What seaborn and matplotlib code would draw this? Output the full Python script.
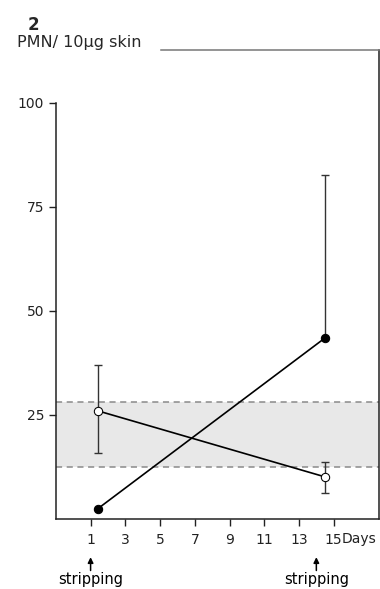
import numpy as np
import seaborn as sns
import matplotlib.pyplot as plt
import matplotlib.transforms as mtrans
import pandas as pd

# data
days = [1.4, 14.5]
filled_vals = [2.4, 43.5]
filled_err_up = [0.0, 39.2]
open_vals = [26.0, 10.1]
open_err_low = [10.1, 3.8]
open_err_high = [11.0, 3.6]
band_low, band_high = 12.5, 28.1
xticks = [1, 3, 5, 7, 9, 11, 13, 15]
yticks = [25, 50, 75, 100]
stripping_days = [1, 14]

sns.set_style("ticks")
plt.rcParams['font.family'] = ['DejaVu Sans']

fig = plt.figure(figsize=(3.8, 5.89), dpi=100)
ax = fig.add_axes([0.147, 0.119, 0.850, 0.796])

xmin, xmax = -1.0, 17.6
ax.set_xlim(xmin, xmax)
ax.set_ylim(0, 112.7)

# normal range band
ax.axhspan(band_low, band_high, color="#e8e8e8", zorder=0, lw=0)
for yv in (band_low, band_high):
    ax.axhline(yv, color="#8a8a8a", ls=(0, (4, 3)), lw=1.1, zorder=1)

df = pd.DataFrame({"day": days, "filled": filled_vals, "open": open_vals})

# error bars
ax.errorbar(days, filled_vals, yerr=[[0, 0], filled_err_up], fmt="none",
            ecolor="#333333", elinewidth=1, capsize=3, capthick=1, zorder=2)
ax.errorbar(days, open_vals, yerr=[open_err_low, open_err_high], fmt="none",
            ecolor="#333333", elinewidth=1, capsize=3, capthick=1, zorder=2)

sns.lineplot(data=df, x="day", y="filled", ax=ax, color="black", lw=1.2,
             marker="o", markersize=6, markerfacecolor="black",
             markeredgecolor="black", zorder=3)
sns.lineplot(data=df, x="day", y="open", ax=ax, color="black", lw=1.2,
             marker="o", markersize=6, markerfacecolor="white",
             markeredgecolor="black", zorder=3)

# spines: partial frame as in the original
for s in ax.spines.values():
    s.set_color("#222222")
    s.set_linewidth(1.1)
ax.spines["left"].set_bounds(0, 100)
ax.spines["top"].set_bounds(5.05, xmax)
ax.spines["top"].set_color("#777777")

ax.set_xticks(xticks)
ax.set_xticklabels([str(t) for t in xticks])
ax.set_yticks(yticks)
ax.set_yticklabels([str(t) for t in yticks])
ax.tick_params(axis="both", direction="out", length=5, width=1,
               labelsize=10, color="#222222", labelcolor="#222222")
ax.tick_params(axis="x", pad=5)
ax.set_xlabel("")
ax.set_ylabel("")

# "Days" right after the last tick label
ax.text(15.45, -4.9, "Days", fontsize=10, ha="left", va="center",
        color="#222222", clip_on=False)

# stripping markers
trans = mtrans.blended_transform_factory(ax.transData, fig.transFigure)
for d in stripping_days:
    ax.annotate("", xy=(d, -9.2), xytext=(d, -12.4),
                arrowprops=dict(arrowstyle="-|>", color="black", lw=1.1,
                                mutation_scale=8, shrinkA=0, shrinkB=0),
                annotation_clip=False)
    ax.text(d, 0.004, "stripping", fontsize=10.5, ha="center", va="bottom",
            color="black", transform=trans, clip_on=False)

fig.text(0.072, 0.958, "2", fontsize=12, fontweight="bold", ha="left", va="center")
fig.text(0.045, 0.928, "PMN/ 10\u00b5g skin", fontsize=11.5, ha="left", va="center")

fig.savefig("out.png", dpi=100)
